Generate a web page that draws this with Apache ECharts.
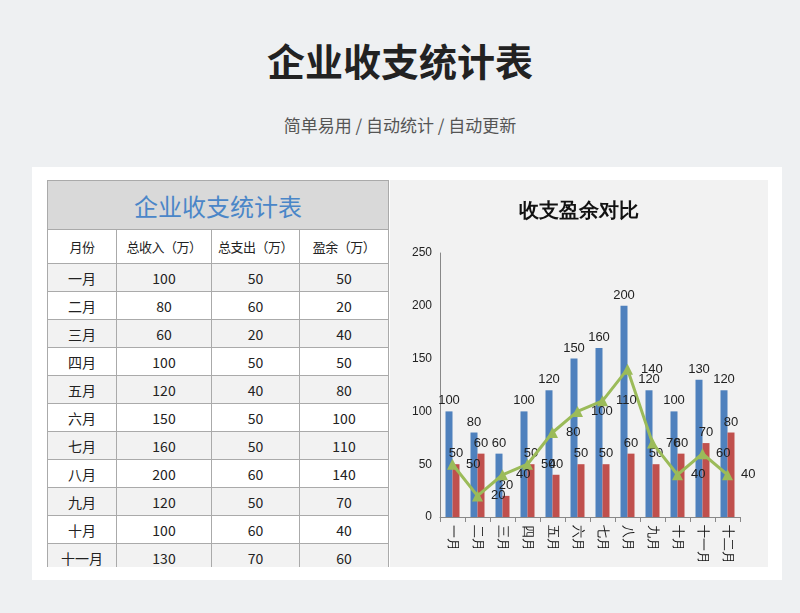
<!DOCTYPE html>
<html><head><meta charset="utf-8">
<script src="https://cdn.jsdelivr.net/npm/echarts@6/dist/echarts.min.js"></script>
<style>
body{margin:0;width:800px;height:613px;background:#eef0f2;font-family:"Noto Sans CJK SC",sans-serif;position:relative;overflow:hidden}
#t{position:absolute;top:32px;width:800px;text-align:center;font-size:38px;font-weight:bold;color:#222}
#s{position:absolute;top:112px;width:800px;text-align:center;font-size:17px;color:#555}
#card{position:absolute;left:32px;top:167px;width:750px;height:413px;background:#fff}
#clip{position:absolute;left:47px;top:180px;width:721px;height:387px;overflow:hidden}
table{position:absolute;left:0;top:0;border-collapse:collapse;width:342px;font-size:14px;color:#222}
td{border:1px solid #aaa;text-align:center;height:27px;padding:0}
#chart{position:absolute;left:343px;top:0;width:378px;height:387px}
</style></head><body>
<div id="t">企业收支统计表</div>
<div id="s">简单易用 / 自动统计 / 自动更新</div>
<div id="card"></div>
<div id="clip"><table id="tb"></table><div id="chart"></div></div>
<script>
const months=['一月','二月','三月','四月','五月','六月','七月','八月','九月','十月','十一月','十二月'];
const income=[100,80,60,100,120,150,160,200,120,100,130,120];
const expense=[50,60,20,50,40,50,50,60,50,60,70,80];
const surplus=[50,20,40,50,80,100,110,140,70,40,60,40];
const headers=['月份','总收入（万）','总支出（万）','盈余（万）'];
let h='<colgroup><col style="width:69px"><col style="width:95px"><col style="width:88px"><col style="width:89px"></colgroup>';
h+='<tr><td colspan="4" style="height:48px;background:#d9d9d9;color:#4a86c8;font-size:24px">企业收支统计表</td></tr>';
h+='<tr>'+headers.map(x=>'<td style="height:33px;font-size:13px;white-space:nowrap;letter-spacing:-0.5px">'+x+'</td>').join('')+'</tr>';
months.forEach((m,i)=>{h+='<tr style="background:'+(i%2?'#fff':'#f2f2f2')+'"><td>'+m+'</td><td>'+income[i]+'</td><td>'+expense[i]+'</td><td>'+surplus[i]+'</td></tr>';});
document.getElementById('tb').innerHTML=h;
const c=echarts.init(document.getElementById('chart'));
const lab={show:true,position:'top',color:'#222',fontSize:13,distance:4};
c.setOption({backgroundColor:'#f2f2f2',animation:false,
title:{text:'收支盈余对比',left:'center',top:16,textStyle:{fontSize:20,fontWeight:'bold',color:'#111'}},
grid:{left:50,right:28,top:73,bottom:43},
xAxis:{type:'category',data:months,axisLine:{lineStyle:{color:'#888'}},axisTick:{show:true,lineStyle:{color:'#888'}},axisLabel:{rotate:-90,color:'#111',fontSize:13,interval:0}},
yAxis:{type:'value',min:0,max:250,interval:50,axisLine:{show:true,lineStyle:{color:'#888'}},splitLine:{show:false},axisLabel:{color:'#222',fontSize:12}},
series:[
{type:'bar',data:income,barWidth:7,barGap:'0%',itemStyle:{color:'#4f81bd'},label:lab},
{type:'bar',data:expense,barWidth:7,itemStyle:{color:'#c0504d'},label:lab},
{type:'line',data:surplus,symbol:'triangle',symbolSize:11,lineStyle:{color:'#9bbb59',width:3},itemStyle:{color:'#9bbb59'},label:{show:true,position:'right',color:'#222',fontSize:13,distance:8}}
]});
</script></body></html>
